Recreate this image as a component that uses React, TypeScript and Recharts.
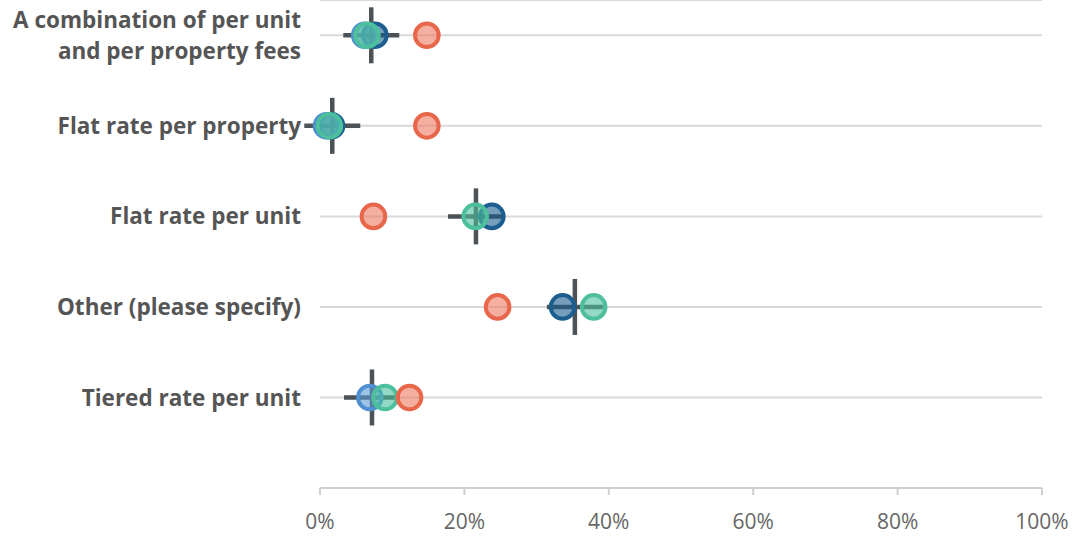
import { ScatterChart, Scatter, XAxis, YAxis, CartesianGrid } from 'recharts';

// fee structure categories, top to bottom
const categories = [
  'A combination of per unit\nand per property fees',
  'Flat rate per property',
  'Flat rate per unit',
  'Other (please specify)',
  'Tiered rate per unit',
];

// share of respondents (%) per group; null = no response
const groupLightBlue = [6.2, 0.9, null, null, 6.9];
const groupDarkBlue = [7.6, 1.6, 23.8, 33.6, null];
const groupTeal = [6.5, 1.3, 21.5, 37.9, 9.0];
const groupCoral = [14.8, 14.8, 7.4, 24.6, 12.4];
const overall = [7.1, 1.7, 21.6, 35.3, 7.2];

const xTicks = [0, 20, 40, 60, 80, 100];

const toPoints = (values: (number | null)[]) =>
  values
    .map((v, i) => (v == null ? null : { x: v, y: i }))
    .filter((p): p is { x: number; y: number } => p !== null);

const dot = (stroke: string, fill: string) => (props: any) => {
  const { cx, cy } = props;
  if (cx == null || cy == null) return <g />;
  return <circle cx={cx} cy={cy} r={11.8} fill={fill} fillOpacity={0.6} stroke={stroke} strokeWidth={4} />;
};

const Cross = (props: any) => {
  const { cx, cy } = props;
  if (cx == null || cy == null) return <g />;
  return (
    <g stroke="#4d5257" strokeWidth={4.5}>
      <line x1={cx} x2={cx} y1={cy - 28} y2={cy + 28} />
      <line x1={cx - 28} x2={cx + 28} y1={cy} y2={cy} />
    </g>
  );
};

const CategoryTick = (props: any) => {
  const { y, payload } = props;
  const label = categories[payload.value] ?? '';
  const lines = label.split('\n');
  const lineHeight = 31;
  const start = -((lines.length - 1) * lineHeight) / 2;
  return (
    <text
      x={301}
      y={y}
      textAnchor="end"
      fill="#555"
      fontSize={22.5}
      fontWeight={700}
      fontFamily="'Open Sans', sans-serif"
    >
      {lines.map((line: string, i: number) => (
        <tspan key={i} x={301} y={y + start + i * lineHeight} dy="0.36em">
          {line}
        </tspan>
      ))}
    </text>
  );
};

const App = () => {
  return (
    <div style={{ position: 'absolute', left: 0, top: 0, width: 1078, height: 536, background: '#fff' }}>
      <ScatterChart width={1078} height={536} margin={{ top: 0, right: 36, bottom: 0, left: 0 }}>
        <CartesianGrid vertical={false} stroke="#d9d9d9" strokeWidth={2} />
        <XAxis
          type="number"
          dataKey="x"
          domain={[0, 100]}
          ticks={xTicks}
          tickFormatter={(v) => `${v}%`}
          height={48}
          tickSize={7}
          tickMargin={19}
          axisLine={{ stroke: '#d0d0d0', strokeWidth: 2 }}
          tickLine={{ stroke: '#d0d0d0', strokeWidth: 2 }}
          tick={{ fill: '#666', fontSize: 21, fontFamily: "'Open Sans', sans-serif" }}
        />
        <YAxis
          type="number"
          dataKey="y"
          domain={[-0.39, 5]}
          ticks={[0, 1, 2, 3, 4]}
          reversed
          allowDataOverflow
          width={320}
          axisLine={false}
          tickLine={false}
          tick={<CategoryTick />}
          interval={0}
        />
        <Scatter data={toPoints(overall)} shape={<Cross />} isAnimationActive={false} />
        <Scatter data={toPoints(groupDarkBlue)} shape={dot('#1b5e8f', '#1b5e8f')} isAnimationActive={false} />
        <Scatter data={toPoints(groupLightBlue)} shape={dot('#4f8fd2', '#5b9bd5')} isAnimationActive={false} />
        <Scatter data={toPoints(groupTeal)} shape={dot('#4dbf9c', '#4dbf9c')} isAnimationActive={false} />
        <Scatter data={toPoints(groupCoral)} shape={dot('#e8664a', '#ec7a63')} isAnimationActive={false} />
      </ScatterChart>
    </div>
  );
};

export default App;
